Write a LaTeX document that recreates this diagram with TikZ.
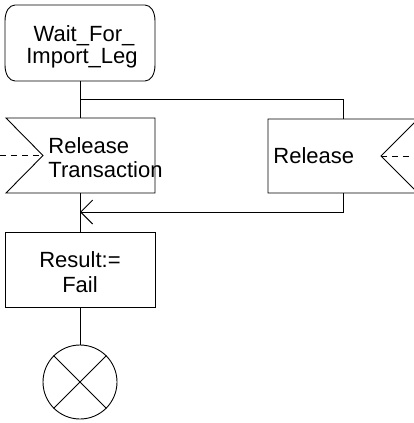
\documentclass[tikz,border=0pt]{standalone}
\usepackage{fontspec}
\setmainfont{Liberation Sans}
\usetikzlibrary{arrows.meta}
\begin{document}
\begin{tikzpicture}[x=1pt,y=-1pt,line width=0.9pt,
  lbl/.style={font=\fontsize{22}{24}\selectfont, inner sep=0pt},
  boxshape/.style={draw, rectangle, minimum width=150pt, minimum height=75pt, inner sep=0pt},
  openarrow/.style={-{Straight Barb[length=12pt,width=24pt]}},
  signal/.style={dash pattern=on 6pt off 5pt}]
\useasboundingbox (0,0) rectangle (414,423);
% state
\node[rectangle, minimum width=150pt, minimum height=76pt, inner sep=0pt] (state) at (80,43) {};
\draw (15,5) -- (145,5) .. controls (151,5) and (155,12) .. (155,21) -- (155,65)
  .. controls (155,74) and (151,81) .. (145,81) -- (15,81)
  .. controls (9,81) and (5,74) .. (5,65) -- (5,21)
  .. controls (5,12) and (9,5) .. (15,5) -- cycle;
\node[lbl, anchor=base] (st1) at (84,41) {Wait\_For\_};
\node[lbl, anchor=base] (st2) at (82,63) {Import\_Leg};
% input 1
\coordinate (in1top) at (80,118);
\coordinate (in1bot) at (80,193);
\coordinate (in1notch) at (43,155.5);
\coordinate (in1sig) at (0,155.5);
\draw (6,118) -- (155,118) -- (155,193) -- (6,193) -- (in1notch) -- cycle;
\node[lbl, anchor=base west] (in1a) at (48,153) {Release};
\node[lbl, anchor=base west] (in1b) at (48,177) {Transaction};
\draw[signal] (in1sig) -- (in1notch);
% input 2
\coordinate (in2top) at (343,119);
\coordinate (in2bot) at (343,193);
\coordinate (in2notch) at (381,156);
\coordinate (in2sig) at (418,156);
\draw (268,119) -- (418,119) -- (in2notch) -- (418,193) -- (268,193) -- cycle;
\node[lbl, anchor=base west] (in2a) at (273,163) {Release};
\draw[signal] (in2notch) -- (in2sig);
% connectors
\coordinate (branch) at (80,99);
\coordinate (merge) at (80,212);
\draw (state.south) -- (in1top);
\draw (branch) -| (in2top);
\draw[openarrow] (in2bot) |- (merge);
% task
\node[boxshape] (result) at (80,269.5) {};
\node[lbl, anchor=base] (r1) at (80,267) {Result:=};
\node[lbl, anchor=base] (r2) at (80,292) {Fail};
\draw (in1bot) -- (result.north);
% stop
\node[draw, circle, minimum size=74pt, inner sep=0pt] (stop) at (80,382) {};
\draw (stop.north west) -- (stop.south east);
\draw (stop.north east) -- (stop.south west);
\draw (result.south) -- (stop.north);
\end{tikzpicture}
\end{document}
